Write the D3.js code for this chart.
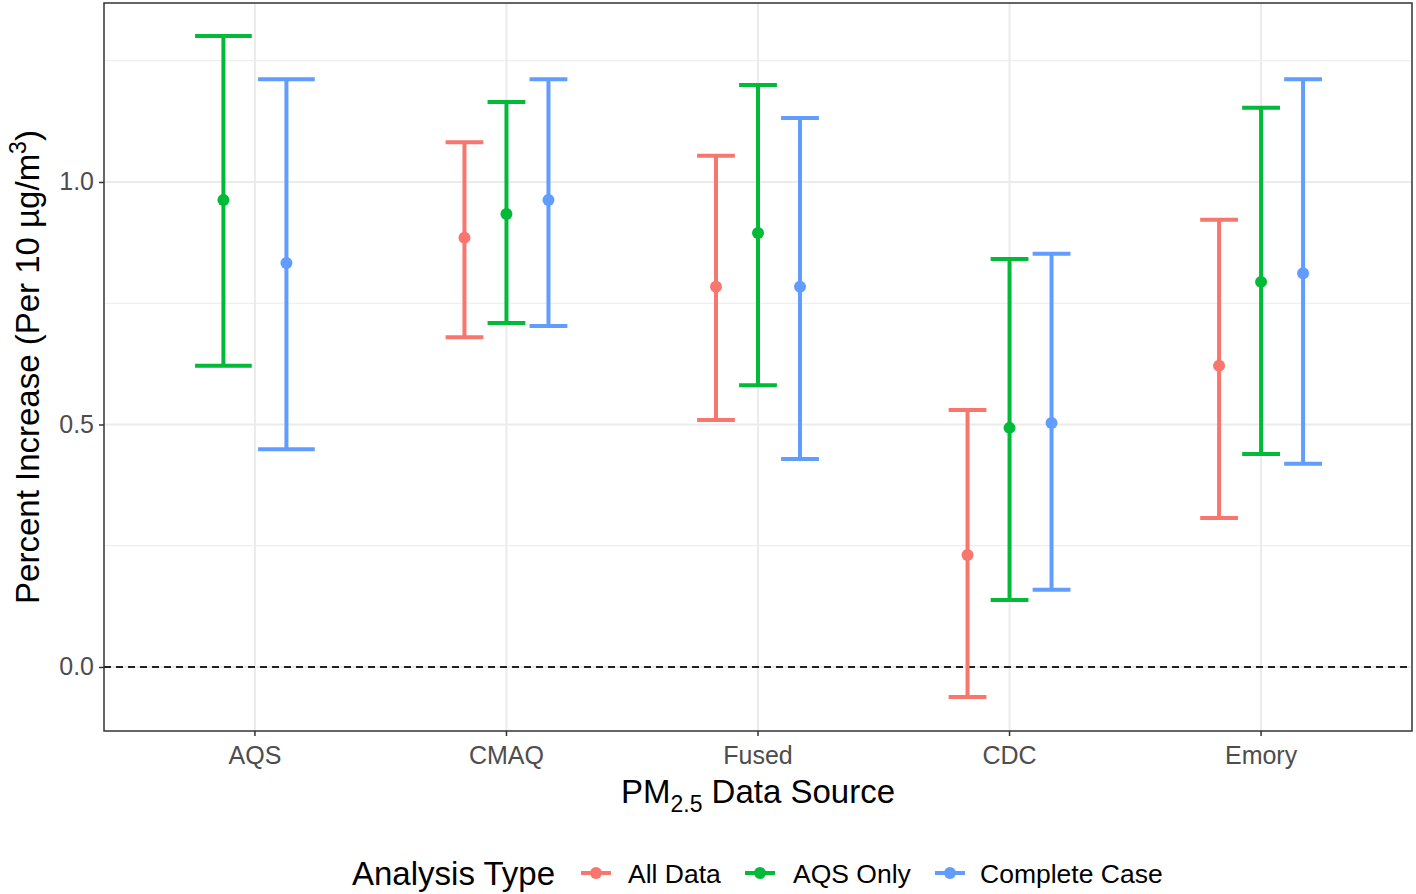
<!DOCTYPE html>
<html>
<head>
<meta charset="utf-8">
<script src="https://cdn.jsdelivr.net/npm/d3@7"></script>
<style>
  body { margin: 0; background: #fff; }
  text { font-family: "Liberation Sans", Arial, sans-serif; }
</style>
</head>
<body>
<div id="chart"></div>
<script>
// data
let sources = ['AQS', 'CMAQ', 'Fused', 'CDC', 'Emory']
let groups = ['All Data', 'AQS Only', 'Complete Case']
let colors = ['#F8766D', '#00BA38', '#619CFF']

// estimate, lower, upper per source (null = not present)
let allData = [
    null,
    [0.885, 0.680, 1.082],
    [0.784, 0.509, 1.054],
    [0.231, -0.062, 0.530],
    [0.621, 0.307, 0.922]
]
let aqsOnly = [
    [0.963, 0.621, 1.301],
    [0.934, 0.709, 1.165],
    [0.895, 0.581, 1.200],
    [0.493, 0.138, 0.841],
    [0.794, 0.439, 1.153]
]
let completeCase = [
    [0.833, 0.449, 1.212],
    [0.963, 0.703, 1.212],
    [0.784, 0.429, 1.132],
    [0.503, 0.159, 0.852],
    [0.812, 0.419, 1.212]
]
let yTicks = [0, 0.5, 1.0]
let yMinor = [0.25, 0.75, 1.25]

let W = 1416, H = 894
let margin = { top: 3, right: 4, bottom: 163, left: 104 }
let width = W - margin.left - margin.right
let height = H - margin.top - margin.bottom

let svg = d3.select('#chart')
    .append('svg')
    .attr('width', W)
    .attr('height', H)

let g = svg.append('g')
    .attr('transform', `translate(${margin.left}, ${margin.top})`)

let x = d3.scaleBand()
    .domain(sources)
    .range([0, width])
    .paddingOuter(0.1)
    .paddingInner(0)

let y = d3.scaleLinear()
    .domain([-0.132, 1.369])
    .range([height, 0])

let dodgeWidth = 126

// gridlines
g.selectAll('.minor')
    .data(yMinor)
    .join('line')
    .attr('x1', 0).attr('x2', width)
    .attr('y1', d => y(d)).attr('y2', d => y(d))
    .attr('stroke', '#ebebeb').attr('stroke-width', 1)

g.selectAll('.major')
    .data(yTicks)
    .join('line')
    .attr('x1', 0).attr('x2', width)
    .attr('y1', d => y(d)).attr('y2', d => y(d))
    .attr('stroke', '#ebebeb').attr('stroke-width', 2)

g.selectAll('.vgrid')
    .data(sources)
    .join('line')
    .attr('x1', d => x(d) + x.bandwidth() / 2)
    .attr('x2', d => x(d) + x.bandwidth() / 2)
    .attr('y1', 0).attr('y2', height)
    .attr('stroke', '#ebebeb').attr('stroke-width', 2)

// dashed zero line
g.append('line')
    .attr('x1', 0).attr('x2', width)
    .attr('y1', y(0)).attr('y2', y(0))
    .attr('stroke', '#222').attr('stroke-width', 1.8)
    .attr('stroke-dasharray', '7,5')

// build rows, dodging only among groups present at each source
let series = [allData, aqsOnly, completeCase]
let rows = []
sources.forEach((src, si) => {
    let present = groups.filter((grp, gi) => series[gi][si])
    let dodge = d3.scaleBand().domain(present).range([-dodgeWidth / 2, dodgeWidth / 2])
    present.forEach(grp => {
        let gi = groups.indexOf(grp)
        let v = series[gi][si]
        rows.push({
            source: src, group: grp, color: colors[gi],
            est: v[0], lo: v[1], hi: v[2],
            off: dodge(grp) + dodge.bandwidth() / 2,
            cap: dodge.bandwidth() * 0.45
        })
    })
})

let cx = d => x(d.source) + x.bandwidth() / 2 + d.off

let bars = g.selectAll('.bar-group')
    .data(rows)
    .join('g')
    .attr('class', 'bar-group')

bars.append('line')
    .attr('x1', cx).attr('x2', cx)
    .attr('y1', d => y(d.lo)).attr('y2', d => y(d.hi))
    .attr('stroke', d => d.color).attr('stroke-width', 4)

bars.append('line')
    .attr('x1', d => cx(d) - d.cap).attr('x2', d => cx(d) + d.cap)
    .attr('y1', d => y(d.hi)).attr('y2', d => y(d.hi))
    .attr('stroke', d => d.color).attr('stroke-width', 4)

bars.append('line')
    .attr('x1', d => cx(d) - d.cap).attr('x2', d => cx(d) + d.cap)
    .attr('y1', d => y(d.lo)).attr('y2', d => y(d.lo))
    .attr('stroke', d => d.color).attr('stroke-width', 4)

bars.append('circle')
    .attr('cx', cx).attr('cy', d => y(d.est))
    .attr('r', 6)
    .attr('fill', d => d.color)

// panel border
g.append('rect')
    .attr('width', width).attr('height', height)
    .attr('fill', 'none').attr('stroke', '#333').attr('stroke-width', 1.5)

// axes
let yAxis = g.append('g')
    .call(d3.axisLeft(y).tickValues(yTicks).tickFormat(d3.format('.1f')).tickSize(5).tickPadding(5))
yAxis.select('.domain').remove()
yAxis.selectAll('line').attr('stroke', '#333').attr('stroke-width', 1.5)
yAxis.selectAll('text').attr('fill', '#4d4d4d').style('font-size', '25px')
    .attr('font-family', '"Liberation Sans", Arial, sans-serif')

let xAxis = g.append('g')
    .attr('transform', `translate(0, ${height})`)
    .call(d3.axisBottom(x).tickSize(5).tickPadding(10))
xAxis.select('.domain').remove()
xAxis.selectAll('line').attr('stroke', '#333').attr('stroke-width', 1.5)
xAxis.selectAll('text').attr('fill', '#4d4d4d').style('font-size', '25px')
    .attr('font-family', '"Liberation Sans", Arial, sans-serif')

// axis titles
let xt = svg.append('text')
    .attr('x', margin.left + width / 2)
    .attr('y', 803)
    .attr('text-anchor', 'middle')
    .style('font-size', '33px')
    .attr('fill', '#000')
xt.append('tspan').text('PM')
xt.append('tspan').text('2.5').style('font-size', '23px').attr('dy', 9)
xt.append('tspan').text(' Data Source').attr('dy', -9)

let yt = svg.append('text')
    .attr('transform', `translate(39, ${margin.top + height / 2}) rotate(-90)`)
    .attr('text-anchor', 'middle')
    .style('font-size', '33px')
    .attr('fill', '#000')
yt.append('tspan').text('Percent Increase (Per 10 µg/m')
yt.append('tspan').text('3').style('font-size', '23px').attr('dy', -13)
yt.append('tspan').text(')').attr('dy', 13)

// legend
let legend = svg.append('g').attr('transform', 'translate(0, 873)')
legend.append('text')
    .attr('x', 352).attr('y', 12)
    .style('font-size', '33px')
    .text('Analysis Type')

let keyX = [581, 745, 935]
let labX = [628, 793, 980]
groups.forEach((grp, i) => {
    legend.append('line')
        .attr('x1', keyX[i]).attr('x2', keyX[i] + 30)
        .attr('y1', 0).attr('y2', 0)
        .attr('stroke', colors[i]).attr('stroke-width', 4)
    legend.append('circle')
        .attr('cx', keyX[i] + 15).attr('cy', 0).attr('r', 6)
        .attr('fill', colors[i])
    legend.append('text')
        .attr('x', labX[i]).attr('y', 10)
        .style('font-size', '26.5px')
        .text(grp)
})
</script>
</body>
</html>
